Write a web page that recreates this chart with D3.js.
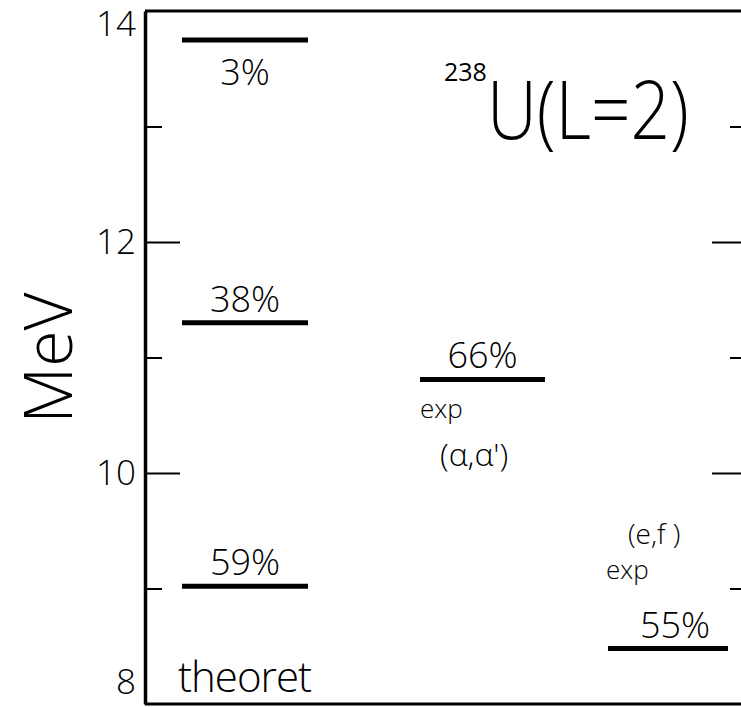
<!DOCTYPE html>
<html><head><meta charset="utf-8">
<script src="https://cdn.jsdelivr.net/npm/d3@7"></script>
<style>
body{margin:0;background:#fff;}
text{font-family:"Open Sans","DejaVu Sans",sans-serif;font-weight:300;fill:#000;}
</style></head>
<body><svg id="c" width="741" height="707"></svg>
<script>
const majorTicks=[8,10,12,14];
const minorTicks=[9,11,13];
const groups=["theoret","alpha","ef"];
const levelGroups=["theoret","theoret","theoret","alpha","ef"];
const levelEnergies=[13.75,11.3,9.02,10.81,8.48];
const levelLabels=["3%","38%","59%","66%","55%"];

const svg=d3.select("#c");
const y=d3.scaleLinear().domain([8,14]).range([704,11]);
const xStart={theoret:182,alpha:420,ef:608};
const xWidth={theoret:126,alpha:125,ef:120};

// frame
svg.append("line").attr("x1",145).attr("x2",741).attr("y1",y(14)).attr("y2",y(14)).attr("stroke","#000").attr("stroke-width",3);
svg.append("line").attr("x1",145).attr("x2",741).attr("y1",y(8)).attr("y2",y(8)).attr("stroke","#000").attr("stroke-width",3);

// left axis major
const gL=svg.append("g").attr("transform","translate(145,0)")
 .call(d3.axisLeft(y).tickValues(majorTicks).tickSizeInner(-35).tickSizeOuter(0).tickPadding(9).tickFormat(d3.format("d")));
gL.select(".domain").attr("stroke-width",3.5);
gL.selectAll(".tick line").attr("stroke-width",2);
gL.selectAll(".tick text").style("font-size","35px").attr("font-family",null)
 .attr("dy",d=>d===14?"0.7em":d===8?"-0.3em":"0.33em");
gL.selectAll(".tick").filter(d=>d===14||d===8).select("line").remove();
const gLm=svg.append("g").attr("transform","translate(145,0)")
 .call(d3.axisLeft(y).tickValues(minorTicks).tickSizeInner(-17).tickSizeOuter(0).tickFormat(""));
gLm.select(".domain").remove();
gLm.selectAll(".tick line").attr("stroke-width",2);

// right axis (ticks inward)
const gR=svg.append("g").attr("transform","translate(745,0)")
 .call(d3.axisRight(y).tickValues([10,12]).tickSizeInner(-33).tickSizeOuter(0).tickFormat(""));
gR.select(".domain").attr("stroke-width",3);
gR.selectAll(".tick line").attr("stroke-width",2);
const gRm=svg.append("g").attr("transform","translate(745,0)")
 .call(d3.axisRight(y).tickValues(minorTicks).tickSizeInner(-15).tickSizeOuter(0).tickFormat(""));
gRm.select(".domain").remove();
gRm.selectAll(".tick line").attr("stroke-width",2);

// levels
const lv=levelEnergies.map((e,i)=>({e,g:levelGroups[i],l:levelLabels[i]}));
svg.selectAll(".lvl").data(lv).join("line").attr("class","lvl")
 .attr("x1",d=>xStart[d.g]).attr("x2",d=>xStart[d.g]+xWidth[d.g])
 .attr("y1",d=>y(d.e)).attr("y2",d=>y(d.e)).attr("stroke","#000").attr("stroke-width",5);
svg.selectAll(".lbl").data(lv).join("text").attr("class","lbl")
 .attr("x",d=>xStart[d.g]+xWidth[d.g]/2+(d.g==="ef"?7:0)).attr("text-anchor","middle")
 .attr("y",d=>y(d.e)+(d.l==="3%"?45:-11))
 .style("font-size","36px").text(d=>d.l);

// annotations
svg.append("text").attr("x",178).attr("y",692).style("font-size","42px").style("letter-spacing","-1px").text("theoret");
svg.append("text").attr("x",420).attr("y",418).style("font-size","26px").text("exp");
svg.append("text").attr("x",440).attr("y",466).style("font-size","32px").text("(α,α')");
svg.append("text").attr("x",628).attr("y",544).style("font-size","28px").text("(e,f )");
svg.append("text").attr("x",606).attr("y",579).style("font-size","26px").text("exp");

// title
const t=svg.append("text").attr("x",444).attr("y",139);
t.append("tspan").attr("dy",-58).style("font-size","25px").style("font-weight","400").text("238");
t.append("tspan").attr("dy",58).style("font-size","82px").style("font-weight","200")
 .attr("textLength",202).attr("lengthAdjust","spacingAndGlyphs").text("U(L=2)");

// y label
svg.append("text").attr("transform","translate(72,358) rotate(-90)").attr("text-anchor","middle")
 .style("font-size","66px").style("font-weight","200").text("MeV");
</script></body></html>
